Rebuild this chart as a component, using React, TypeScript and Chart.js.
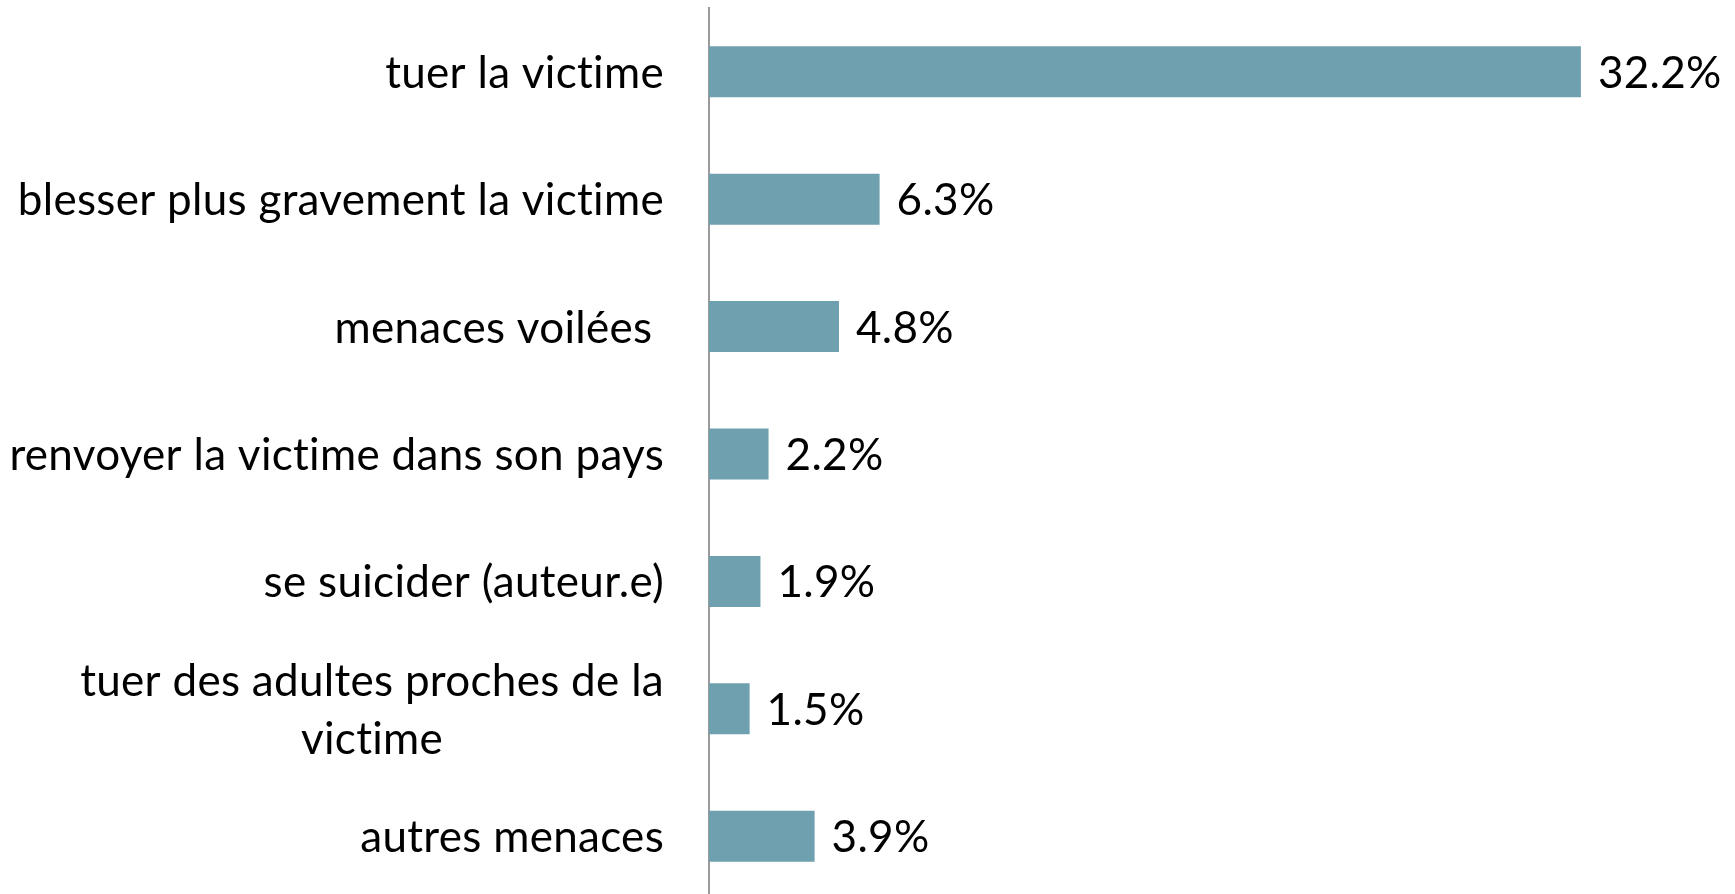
import React, { useEffect, useRef } from "react";
import { Chart, registerables } from "chart.js";

Chart.register(...registerables);

const categories: (string | string[])[] = [
  "tuer la victime",
  "blesser plus gravement la victime",
  "menaces voilées ",
  "renvoyer la victime dans son pays",
  "se suicider (auteur.e)",
  ["tuer des adultes proches de la", "victime"],
  "autres menaces",
];
const values: number[] = [32.2, 6.3, 4.8, 2.2, 1.9, 1.5, 3.9];
const valueLabels: string[] = ["32.2%", "6.3%", "4.8%", "2.2%", "1.9%", "1.5%", "3.9%"];

const FONT = "44px Lato, 'Open Sans', sans-serif";

export default function App() {
  const ref = useRef<HTMLCanvasElement | null>(null);

  useEffect(() => {
    let chart: Chart | null = null;
    let cancelled = false;

    const labelsPlugin = {
      id: "customLabels",
      afterDatasetsDraw(c: any) {
        const ctx = c.ctx as any;
        ctx.save();
        ctx.font = FONT;
        ctx.fillStyle = "#000000";
        try {
          ctx.letterSpacing = "0.3px";
          ctx.textRendering = "optimizeSpeed";
        } catch (e) {}
        // value labels
        const meta = c.getDatasetMeta(0);
        meta.data.forEach((bar: any, i: number) => {
          ctx.textAlign = "left";
          ctx.textBaseline = "alphabetic";
          ctx.fillText(valueLabels[i], bar.x + 17, bar.y + 16);
        });
        // category labels
        const yScale = c.scales.y;
        const rightX = yScale.right - 45;
        categories.forEach((lab, i) => {
          const y = yScale.getPixelForTick(i);
          const lines = Array.isArray(lab) ? lab : [lab];
          const lineH = 58.5;
          const widths = lines.map((l) => ctx.measureText(l).width);
          const blockW = Math.max(...widths);
          const cx = rightX - blockW / 2;
          lines.forEach((l, k) => {
            const by = y + 16 + (k - (lines.length - 1) / 2) * lineH;
            if (lines.length === 1) {
              ctx.textAlign = "right";
              ctx.fillText(l, rightX, by);
            } else {
              ctx.textAlign = "center";
              ctx.fillText(l, cx, by);
            }
          });
        });
        ctx.restore();
      },
    };

    const create = () => {
      if (cancelled || !ref.current) return;
      chart = new Chart(ref.current, {
        type: "bar",
        data: {
          labels: categories,
          datasets: [
            {
              data: values,
              backgroundColor: "#6FA0AF",
              borderWidth: 0,
              barPercentage: 0.4,
              categoryPercentage: 1,
            },
          ],
        },
        options: {
          indexAxis: "y",
          responsive: false,
          animation: false,
          layout: { padding: { top: 8, bottom: 0, left: 0, right: 0 } },
          plugins: {
            legend: { display: false },
            tooltip: { enabled: false },
          },
          scales: {
            x: {
              display: false,
              min: 0,
              max: 37.89,
            },
            y: {
              position: "left",
              grid: { display: false, drawTicks: false },
              ticks: { display: false },
              border: { display: true, color: "#9a9a9a", width: 2 },
              afterFit: (scale: any) => {
                scale.width = 709;
              },
            },
          },
        },
        plugins: [labelsPlugin],
      });
    };

    if ((document as any).fonts && (document as any).fonts.load) {
      (document as any).fonts.load(FONT).then(create, create);
    } else {
      create();
    }

    return () => {
      cancelled = true;
      if (chart) chart.destroy();
    };
  }, []);

  return (
    <div
      style={{
        position: "fixed",
        left: 0,
        top: 0,
        width: 1735,
        height: 894,
        overflow: "hidden",
        background: "#ffffff",
      }}
    >
      <canvas ref={ref} width={1735} height={900} style={{ display: "block" }} />
    </div>
  );
}
